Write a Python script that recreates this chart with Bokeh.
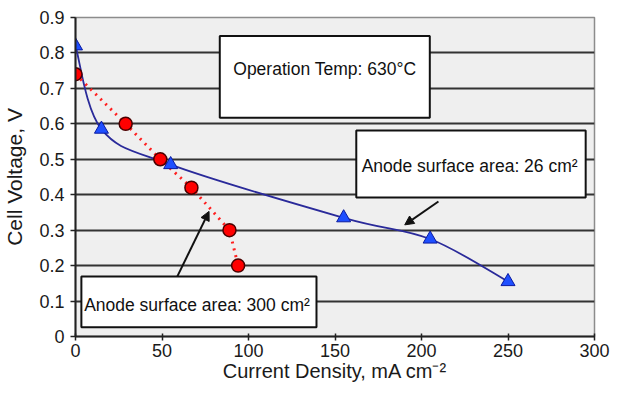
from bokeh.plotting import figure
from bokeh.models import (Range1d, SingleIntervalTicker, CustomJSTickFormatter, BoxAnnotation,
                          Label, Arrow, NormalHead)
from bokeh.embed import file_html
from bokeh.resources import INLINE

# ---- data ----
blue_x = [0, 15, 55, 155, 205, 250]          # Anode 26 cm2
blue_y = [0.82, 0.585, 0.485, 0.335, 0.275, 0.155]
red_x = [0, 29, 49, 67, 89, 94]              # Anode 300 cm2
red_y = [0.74, 0.60, 0.50, 0.42, 0.30, 0.20]

x_label = "Current Density, mA cm\u207b\u00b2"
y_label = "Cell Voltage, V"
note_temp = "Operation Temp: 630\u00b0C"
note_26 = "Anode surface area: 26 cm\u00b2"
note_300 = "Anode surface area: 300 cm\u00b2"

FONT = "Liberation Sans"

p = figure(width=610, height=385, output_backend="svg", toolbar_location=None,
           x_range=Range1d(0, 300), y_range=Range1d(0, 0.9),
           min_border_left=75, min_border_right=16, min_border_top=17, min_border_bottom=49)
p.border_fill_color = "white"
p.background_fill_color = "#efefef"
p.outline_line_color = "#8c8c8c"
p.outline_line_width = 1.5

p.xaxis.ticker = SingleIntervalTicker(interval=50)
p.yaxis.ticker = SingleIntervalTicker(interval=0.1)
p.yaxis.formatter = CustomJSTickFormatter(code="return Math.abs(tick) < 1e-9 ? '0' : tick.toFixed(1);")
p.xaxis.formatter = CustomJSTickFormatter(code="return tick.toFixed(0);")
for ax in (p.xaxis, p.yaxis):
    ax.axis_line_color = "#222222"
    ax.axis_line_width = 2
    ax.major_tick_line_color = "#222222"
    ax.major_tick_line_width = 1.5
    ax.minor_tick_line_color = None
    ax.major_label_text_font = FONT
    ax.major_label_text_font_size = "18px"
    ax.major_label_text_color = "#1a1a1a"
    ax.axis_label_text_font = FONT
    ax.axis_label_text_font_style = "normal"
    ax.axis_label_text_color = "#1a1a1a"
p.xaxis.major_tick_out = 4
p.xaxis.major_tick_in = 3
p.xaxis.major_label_standoff = 3
p.xaxis.axis_label = x_label
p.xaxis.axis_label_text_font_size = "20px"
p.xaxis.axis_label_standoff = 0
p.yaxis.major_tick_out = 5
p.yaxis.major_tick_in = 0
p.yaxis.major_label_standoff = 6
p.yaxis.axis_label = y_label
p.yaxis.axis_label_text_font_size = "21px"
p.yaxis.axis_label_standoff = 10

p.xgrid.grid_line_color = None
p.ygrid.grid_line_color = "#333333"
p.ygrid.grid_line_width = 2

# smoothed blue curve (Excel-style Catmull-Rom -> cubic Bezier through the points)
n = len(blue_x)
x0s, y0s, x1s, y1s, cx0, cy0, cx1, cy1 = [], [], [], [], [], [], [], []
for i in range(n - 1):
    pm = i - 1 if i > 0 else i
    pp = i + 2 if i + 2 < n else i + 1
    x0s.append(blue_x[i]); y0s.append(blue_y[i])
    x1s.append(blue_x[i + 1]); y1s.append(blue_y[i + 1])
    cx0.append(blue_x[i] + (blue_x[i + 1] - blue_x[pm]) / 6)
    cy0.append(blue_y[i] + (blue_y[i + 1] - blue_y[pm]) / 6)
    cx1.append(blue_x[i + 1] - (blue_x[pp] - blue_x[i]) / 6)
    cy1.append(blue_y[i + 1] - (blue_y[pp] - blue_y[i]) / 6)
p.bezier(x0=x0s, y0=y0s, x1=x1s, y1=y1s, cx0=cx0, cy0=cy0, cx1=cx1, cy1=cy1,
         line_color="#2a2a9a", line_width=1.8)

# red dotted line
p.line(red_x, red_y, line_color="#ff2020", line_width=3, line_dash="2 5")

# markers
p.scatter(red_x, red_y, marker="circle", size=13, fill_color="#ff0000",
          line_color="#4a0000", line_width=1.5)
p.scatter(blue_x, blue_y, marker="triangle", size=14, fill_color="#1f4fff",
          line_color="#0a1aa0", line_width=1)

# annotation boxes
def box(l, r, b, t):
    p.add_layout(BoxAnnotation(left=l, right=r, bottom=b, top=t, fill_color="white",
                               fill_alpha=1.0, line_color="#111111", line_width=2,
                               line_alpha=1.0))

box(83.4, 204.8, 0.617, 0.848)
box(162.3, 294.9, 0.392, 0.581)
box(3.4, 139.3, 0.026, 0.169)

def note(x, y, t):
    p.add_layout(Label(x=x, y=y, text=t, text_font=FONT, text_font_size="17.5px",
                       text_color="#111111", text_align="left", text_baseline="middle"))

note(91.2, 0.754, note_temp)
note(165.4, 0.480, note_26)
note(5.0, 0.089, note_300)

# arrows
p.add_layout(Arrow(end=NormalHead(size=9, fill_color="#111111", line_color="#111111"),
                   x_start=58.8, y_start=0.169, x_end=77.2, y_end=0.353,
                   line_color="#111111", line_width=2))
p.add_layout(Arrow(end=NormalHead(size=9, fill_color="#111111", line_color="#111111"),
                   x_start=209.8, y_start=0.381, x_end=190.3, y_end=0.315,
                   line_color="#111111", line_width=2))

open("out.html", "w").write(file_html(p, INLINE))
